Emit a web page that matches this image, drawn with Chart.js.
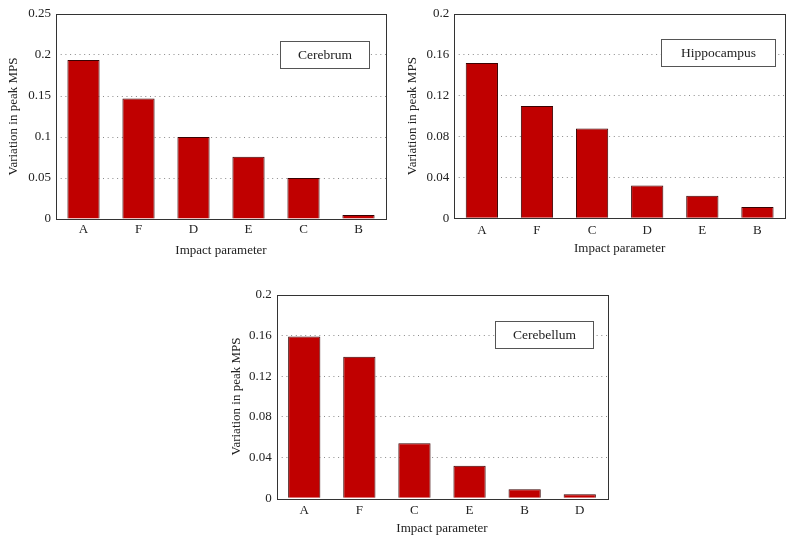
<!DOCTYPE html>
<html>
<head>
<meta charset="utf-8">
<script src="https://cdn.jsdelivr.net/npm/chart.js@4"></script>
<style>
  html, body { margin: 0; padding: 0; background: #fff; }
  body { width: 794px; height: 544px; position: relative; overflow: hidden; }
  .box { position: absolute; }
</style>
</head>
<body>
<div class="box" id="b1" style="left:0px;top:0px;width:395px;height:265px;"><canvas id="c1"></canvas></div>
<div class="box" id="b2" style="left:395px;top:0px;width:399px;height:265px;"><canvas id="c2"></canvas></div>
<div class="box" id="b3" style="left:220px;top:280px;width:400px;height:264px;"><canvas id="c3"></canvas></div>
<script>
// ---- Data ----
const cerebrumLabels = ['A', 'F', 'D', 'E', 'C', 'B'];
const cerebrumValues = [0.194, 0.147, 0.100, 0.076, 0.050, 0.005];
const cerebrumTicks = [0, 0.05, 0.1, 0.15, 0.2, 0.25];

const hippocampusLabels = ['A', 'F', 'C', 'D', 'E', 'B'];
const hippocampusValues = [0.152, 0.110, 0.088, 0.032, 0.022, 0.011];
const hippocampusTicks = [0, 0.04, 0.08, 0.12, 0.16, 0.2];

const cerebellumLabels = ['A', 'F', 'C', 'E', 'B', 'D'];
const cerebellumValues = [0.159, 0.139, 0.054, 0.032, 0.009, 0.004];
const cerebellumTicks = [0, 0.04, 0.08, 0.12, 0.16, 0.2];

const xTitle = 'Impact parameter';
const yTitle = 'Variation in peak MPS';

// ---- Style ----
const FONT = "'Liberation Serif', 'DejaVu Serif', serif";
const TEXT = '#222';
Chart.defaults.font.family = FONT;
Chart.defaults.font.size = 13;
Chart.defaults.color = TEXT;

const frameAndLegend = {
  id: 'frameAndLegend',
  afterDatasetsDraw(chart, args, opts) {
    const ctx = chart.ctx;
    const a = chart.chartArea;
    ctx.save();
    // legend box
    const lx = Math.round(a.left + opts.x) + 0.5;
    const ly = Math.round(a.top + opts.y) + 0.5;
    ctx.fillStyle = '#fff';
    ctx.fillRect(lx, ly, opts.w, opts.h);
    ctx.strokeStyle = '#555';
    ctx.lineWidth = 1;
    ctx.strokeRect(lx, ly, opts.w, opts.h);
    ctx.fillStyle = TEXT;
    ctx.font = '13.5px ' + FONT;
    ctx.textAlign = 'center';
    ctx.textBaseline = 'middle';
    ctx.fillText(opts.text, lx + opts.w / 2, ly + opts.h / 2 + 0.5);
    // frame
    ctx.strokeStyle = '#333';
    ctx.lineWidth = 1;
    ctx.strokeRect(Math.round(a.left) + 0.5, Math.round(a.top) + 0.5,
                   Math.round(a.right - a.left), Math.round(a.bottom - a.top));
    ctx.restore();
  }
};

function makeChart(id, labels, values, tickVals, legendText, L) {
  const maxV = tickVals[tickVals.length - 1];
  return new Chart(document.getElementById(id), {
    type: 'bar',
    data: {
      labels: labels,
      datasets: [{
        data: values,
        backgroundColor: '#C00000',
        borderColor: '#3a0303',
        borderWidth: 1,
        barPercentage: 0.585,
        categoryPercentage: 1.0
      }]
    },
    options: {
      responsive: true,
      maintainAspectRatio: false,
      animation: false,
      layout: { padding: { left: 0, top: L.top, right: L.right, bottom: L.bottom } },
      plugins: {
        legend: { display: false },
        tooltip: { enabled: false },
        frameAndLegend: { text: legendText, x: L.lgx, y: L.lgy, w: L.lgw, h: L.lgh }
      },
      scales: {
        x: {
          grid: { display: false, drawTicks: false },
          border: { display: false },
          ticks: { padding: L.xpad, color: TEXT, font: { size: 13 } },
          title: { display: true, text: xTitle, color: TEXT, font: { size: 13 }, padding: { top: 4, bottom: 0 } },
          afterFit: s => { s.height = L.xh; }
        },
        y: {
          min: 0,
          max: maxV,
          afterBuildTicks: s => { s.ticks = tickVals.map(v => ({ value: v })); },
          ticks: {
            padding: 5,
            color: TEXT,
            font: { size: 13 },
            callback: v => String(+v.toFixed(4))
          },
          grid: {
            drawTicks: false,
            lineWidth: 1,
            color: c => (c.tick && (c.tick.value === 0 || c.tick.value === maxV)) ? 'rgba(0,0,0,0)' : '#8a8a8a',
            borderDash: [1, 3.7]
          },
          border: { display: false, dash: [1, 3.7] },
          title: { display: true, text: yTitle, color: TEXT, font: { size: 13 }, padding: { top: L.ytp, bottom: 0 } },
          afterFit: s => { s.width = L.yw; }
        }
      }
    },
    plugins: [frameAndLegend]
  });
}

makeChart('c1', cerebrumLabels, cerebrumValues, cerebrumTicks, 'Cerebrum',
  { top: 14, right: 9, bottom: 7, yw: 56, xh: 39, xpad: 3, ytp: 6, lgx: 224, lgy: 27, lgw: 89, lgh: 27 });
makeChart('c2', hippocampusLabels, hippocampusValues, hippocampusTicks, 'Hippocampus',
  { top: 14, right: 9, bottom: 8.7, yw: 59.3, xh: 38, xpad: 4, ytp: 10, lgx: 206.4, lgy: 25.3, lgw: 114, lgh: 27 });
makeChart('c3', cerebellumLabels, cerebellumValues, cerebellumTicks, 'Cerebellum',
  { top: 14.7, right: 12.7, bottom: 7.7, yw: 56.7, xh: 38, xpad: 4, ytp: 9, lgx: 218.6, lgy: 26.3, lgw: 98, lgh: 27 });
</script>
</body>
</html>
